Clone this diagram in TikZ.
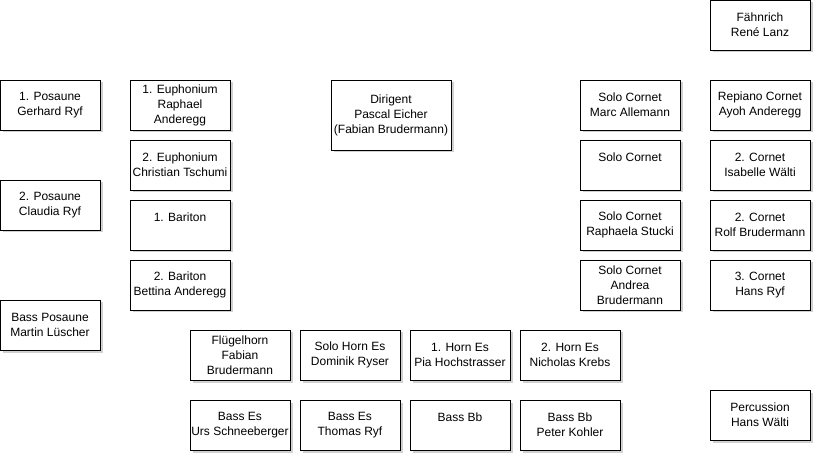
\documentclass[tikz,border=0pt]{standalone}
\usepackage{fontspec}
\setmainfont{Liberation Sans}
\usetikzlibrary{shadows}
\tikzset{
  seat/.style={draw, thick, fill=white, minimum width=100pt, minimum height=50pt,
    inner sep=0pt, align=center, font=\fontsize{12}{15}\selectfont,
    drop shadow={shadow xshift=2.5pt, shadow yshift=-2.5pt, fill=black!30, opacity=0.6}},
}
\begin{document}
\begin{tikzpicture}[x=1pt, y=-1pt, line width=0.8pt]
  \useasboundingbox (0,0) rectangle (822,462);
  % flag
  \node[seat] (faehnrich) at (760,25) {Fähnrich\\René Lanz};
  % trombones, left column
  \node[seat] (posaune1) at (50,105) {1. Posaune\\Gerhard Ryf};
  \node[seat] (posaune2) at (50,205) {2. Posaune\\Claudia Ryf};
  \node[seat] (bassposaune) at (50,325) {Bass Posaune\\Martin Lüscher};
  % euphoniums and baritones
  \node[seat] (euph1) at (180,105) {1. Euphonium\\Raphael\\Anderegg};
  \node[seat] (euph2) at (180,165) {2. Euphonium\\Christian Tschumi};
  \node[seat] (bariton1) at (180,225) {1. Bariton\\~};
  \node[seat] (bariton2) at (180,285) {2. Bariton\\Bettina Anderegg};
  % conductor
  \node[seat, minimum width=120pt, minimum height=70pt] (dirigent) at (391,115)
    {Dirigent\\Pascal Eicher\\(Fabian Brudermann)};
  % solo cornets
  \node[seat] (solo1) at (630,105) {Solo Cornet\\Marc Allemann};
  \node[seat] (solo2) at (630,165) {Solo Cornet\\~};
  \node[seat] (solo3) at (630,225) {Solo Cornet\\Raphaela Stucki};
  \node[seat] (solo4) at (630,285) {Solo Cornet\\Andrea\\Brudermann};
  % back cornets, right column
  \node[seat] (repiano) at (760,105) {Repiano Cornet\\Ayoh Anderegg};
  \node[seat] (cornet2a) at (760,165) {2. Cornet\\Isabelle Wälti};
  \node[seat] (cornet2b) at (760,225) {2. Cornet\\Rolf Brudermann};
  \node[seat] (cornet3) at (760,285) {3. Cornet\\Hans Ryf};
  % horns
  \node[seat] (fluegelhorn) at (240,355) {Flügelhorn\\Fabian\\Brudermann};
  \node[seat] (solohorn) at (350,355) {Solo Horn Es\\Dominik Ryser};
  \node[seat] (horn1) at (460,355) {1. Horn Es\\Pia Hochstrasser};
  \node[seat] (horn2) at (570,355) {2. Horn Es\\Nicholas Krebs};
  % basses
  \node[seat] (basses1) at (240,425) {Bass Es\\Urs Schneeberger};
  \node[seat] (basses2) at (350,425) {Bass Es\\Thomas Ryf};
  \node[seat] (bassbb1) at (460,425) {Bass Bb\\~};
  \node[seat] (bassbb2) at (570,425) {Bass Bb\\Peter Kohler};
  % percussion
  \node[seat] (percussion) at (760,415) {Percussion\\Hans Wälti};
\end{tikzpicture}
\end{document}
